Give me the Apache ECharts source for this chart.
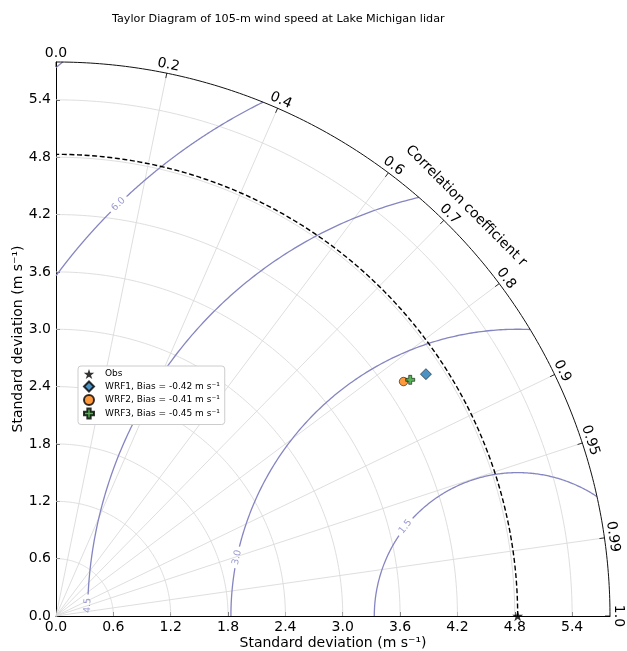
<!DOCTYPE html>
<html><head><meta charset="utf-8">
<script src="https://cdn.jsdelivr.net/npm/echarts@6/dist/echarts.min.js"></script>
<style>html,body{margin:0;padding:0;background:#fff}#c{width:627px;height:651px}</style>
</head><body><div id="c"></div>
<script>
// ---------------- data ----------------
const TITLE = 'Taylor Diagram of 105-m wind speed at Lake Michigan lidar';
const REF_STD = 4.83;          // observed standard deviation
const STD_MAX = 5.796;         // outer radius (1.2 x obs std)
const STD_TICKS = [0.6, 1.2, 1.8, 2.4, 3.0, 3.6, 4.2, 4.8, 5.4];
const CORR_TICKS = [0, 0.2, 0.4, 0.6, 0.7, 0.8, 0.9, 0.95, 0.99, 1.0];
const CORR_LABELS = ['0.0', '0.2', '0.4', '0.6', '0.7', '0.8', '0.9', '0.95', '0.99', '1.0'];
const RMS_LEVELS = [1.5, 3.0, 4.5, 6.0, 7.5];
const RMS_LABELS = ['1.5', '3.0', '4.5', '6.0', ''];
const RMS_LABEL_ANGLE = [141.5, 168.2, 178.6, 134.1, 0]; // degrees around the obs point
const MODELS = ['WRF1', 'WRF2', 'WRF3'];
const MODEL_STD = [4.624, 4.386, 4.454];
const MODEL_CORR = [0.837, 0.829, 0.832];
const MODEL_BIAS = ['-0.42', '-0.41', '-0.45'];

// ---------------- style ----------------
const FONT = 'DejaVu Sans';
const GRID_COLOR = '#dadada';
const CONTOUR_COLOR = '#8585c2';
const CONTOUR_LABEL_COLOR = '#9a9ad0';
const STAR = 'path://M0,-1L0.2245,-0.309L0.951,-0.309L0.363,0.118L0.588,0.809L0,0.382L-0.588,0.809L-0.363,0.118L-0.951,-0.309L-0.2245,-0.309Z';
const DIAMOND = 'path://M0,-1L1,0L0,1L-1,0Z';
const CIRCLE = 'path://M1,0A1,1,0,1,1,-1,0A1,1,0,1,1,1,0Z';
const PLUS = 'path://M-1,-0.333H-0.333V-1H0.333V-0.333H1V0.333H0.333V1H-0.333V0.333H-1Z';
const MODEL_SYMBOL = [DIAMOND, CIRCLE, PLUS];
const MODEL_SIZE = [11, 8.5, 9];
const MODEL_COLOR = ['#1f77b4', '#ff7f0e', '#2ca02c'];

const toXY = (s, c) => [s * c, s * Math.sqrt(Math.max(0, 1 - c * c))];

function pxScale(api) { return api.coord([1, 0])[0] - api.coord([0, 0])[0]; }

function arcPoints(api, r, t0, t1, n) {
  const pts = [];
  for (let i = 0; i <= n; i++) {
    const t = t0 + (t1 - t0) * i / n;
    pts.push(api.coord([r * Math.cos(t), r * Math.sin(t)]));
  }
  return pts;
}

function circlePoints(api, cx, L, p0, p1, n) {
  const pts = [];
  for (let i = 0; i <= n; i++) {
    const p = p0 + (p1 - p0) * i / n;
    pts.push(api.coord([cx + L * Math.cos(p), L * Math.sin(p)]));
  }
  return pts;
}

const series = [];

// std grid arcs
series.push({
  type: 'custom', name: 'stdgrid', z: 1, silent: true, clip: false,
  data: STD_TICKS.map(v => [v, 0]),
  renderItem: (params, api) => ({
    type: 'polyline', silent: true,
    shape: { points: arcPoints(api, api.value(0), 0, Math.PI / 2, 120) },
    style: { stroke: GRID_COLOR, lineWidth: 0.9, fill: 'none' }
  })
});

// correlation grid lines
series.push({
  type: 'custom', name: 'corrgrid', z: 1, silent: true, clip: false,
  data: CORR_TICKS.filter(c => c > 0 && c < 1).map(c => [c, 0]),
  renderItem: (params, api) => {
    const c = api.value(0);
    const a = api.coord([0, 0]), b = api.coord(toXY(STD_MAX, c));
    return { type: 'line', silent: true, shape: { x1: a[0], y1: a[1], x2: b[0], y2: b[1] },
      style: { stroke: GRID_COLOR, lineWidth: 0.9 } };
  }
});

// RMS difference contours
series.push({
  type: 'custom', name: 'contours', z: 2, silent: true, clip: false,
  data: RMS_LEVELS.map(v => [v, 0]),
  renderItem: (params, api) => {
    const L = api.value(0), idx = params.dataIndex;
    const c1 = (STD_MAX * STD_MAX - REF_STD * REF_STD - L * L) / (2 * REF_STD * L);
    const p1 = Math.acos(Math.max(-1, Math.min(1, c1)));
    const p2 = Math.acos(Math.max(-1, Math.min(1, -REF_STD / L)));
    const children = [];
    if (p2 <= p1) return { type: 'group', children };
    let segs = [[p1, p2]];
    const lab = RMS_LABELS[idx];
    if (lab) {
      const sc = pxScale(api);
      const pc = RMS_LABEL_ANGLE[idx] * Math.PI / 180;
      const g = 11 / (L * sc);
      segs = [[p1, pc - g], [pc + g, p2]];
      const pos = api.coord([REF_STD + L * Math.cos(pc), L * Math.sin(pc)]);
      let ang = Math.atan2(Math.cos(pc), -Math.sin(pc));
      if (ang > Math.PI / 2) ang -= Math.PI;
      if (ang < -Math.PI / 2) ang += Math.PI;
      children.push({ type: 'text', x: pos[0], y: pos[1], rotation: ang, silent: true,
        style: { text: lab, fill: CONTOUR_LABEL_COLOR, fontSize: 9.5, fontFamily: FONT,
          align: 'center', verticalAlign: 'middle' } });
    }
    segs.forEach(s => {
      if (s[1] > s[0]) {
        children.push({ type: 'polyline', silent: true,
          shape: { points: circlePoints(api, REF_STD, L, s[0], s[1], 160) },
          style: { stroke: CONTOUR_COLOR, lineWidth: 1.3, fill: 'none' } });
      }
    });
    return { type: 'group', children };
  }
});

// reference arc (dashed) and outer arc + axis title
series.push({
  type: 'custom', name: 'frame', z: 3, silent: true, clip: false,
  data: [[REF_STD, 0]],
  renderItem: (params, api) => {
    const sc = pxScale(api);
    const tp = api.coord(toXY(STD_MAX + 26 / sc, Math.cos(Math.PI / 4)));
    return { type: 'group', children: [
      { type: 'polyline', silent: true, shape: { points: arcPoints(api, api.value(0), 0, Math.PI / 2, 200) },
        style: { stroke: '#000', lineWidth: 1.4, lineDash: [5, 2.6], fill: 'none' } },
      { type: 'polyline', silent: true, shape: { points: arcPoints(api, STD_MAX, 0, Math.PI / 2, 200) },
        style: { stroke: '#111', lineWidth: 1, fill: 'none' } },
      { type: 'text', x: tp[0], y: tp[1], rotation: -Math.PI / 4, silent: true,
        style: { text: 'Correlation coefficient r', fill: '#000', fontSize: 14, fontFamily: FONT,
          align: 'center', verticalAlign: 'middle' } }
    ] };
  }
});

// correlation ticks and labels
series.push({
  type: 'custom', name: 'corrlabels', z: 4, silent: true, clip: false,
  data: CORR_TICKS.map(c => [c, 0]),
  renderItem: (params, api) => {
    const c = api.value(0), i = params.dataIndex;
    const sc = pxScale(api);
    const th = Math.acos(c);
    const a = api.coord(toXY(STD_MAX, c)), b = api.coord(toXY(STD_MAX - 5 / sc, c));
    const lp = api.coord(toXY(STD_MAX + 8.5 / sc, c));
    return { type: 'group', children: [
      { type: 'line', silent: true, shape: { x1: a[0], y1: a[1], x2: b[0], y2: b[1] },
        style: { stroke: '#000', lineWidth: 0.8 } },
      { type: 'text', x: lp[0], y: lp[1], rotation: th - Math.PI / 2, silent: true,
        style: { text: CORR_LABELS[i], fill: '#000', fontSize: 14, fontFamily: FONT,
          align: 'center', verticalAlign: 'middle' } }
    ] };
  }
});

// observation point
series.push({
  type: 'scatter', name: 'Obs', z: 6, clip: false,
  symbol: STAR, symbolSize: 11, symbolKeepAspect: true,
  itemStyle: { color: '#000', borderColor: '#000', borderWidth: 0 },
  data: [toXY(REF_STD, 1)]
});
// model points
MODELS.forEach((m, i) => {
  series.push({
    type: 'scatter', name: m, z: 6, clip: false,
    symbol: MODEL_SYMBOL[i], symbolSize: MODEL_SIZE[i], symbolKeepAspect: true,
    itemStyle: { color: MODEL_COLOR[i], borderColor: '#000', borderWidth: 0.7 },
    data: [toXY(MODEL_STD[i], MODEL_CORR[i])]
  });
});

const axisCommon = {
  type: 'value', min: 0, max: STD_MAX, interval: 0.6,
  axisLine: { show: true, lineStyle: { color: '#000', width: 1 } },
  axisTick: { show: true, inside: true, length: 4, lineStyle: { color: '#000', width: 0.8 } },
  axisLabel: { fontSize: 14, fontFamily: FONT, color: '#000', showMaxLabel: false,
    formatter: v => (v > STD_MAX - 0.1 ? '' : v.toFixed(1)) },
  splitLine: { show: false },
  nameLocation: 'middle',
  nameMoveOverlap: false,
  nameTextStyle: { fontSize: 14, fontFamily: FONT, color: '#000' },
  name: 'Standard deviation (m s\u207B\u00B9)'
};

const legendData = [{ name: 'Obs', icon: STAR }].concat(MODELS.map((m, i) => ({ name: m, icon: MODEL_SYMBOL[i] })));
const biasOf = {};
MODELS.forEach((m, i) => { biasOf[m] = MODEL_BIAS[i]; });

const option = {
  animation: false,
  backgroundColor: '#fff',
  title: { text: TITLE, left: 112, top: 14, padding: 0,
    textStyle: { fontFamily: FONT, fontSize: 11.2, fontWeight: 'normal', color: '#000' } },
  grid: { left: 56, top: 62, width: 554, height: 554, containLabel: false, outerBoundsMode: 'none' },
  xAxis: Object.assign({}, axisCommon, { nameGap: 20, axisLabel: Object.assign({}, axisCommon.axisLabel, { margin: 4 }) }),
  yAxis: Object.assign({}, axisCommon, { nameGap: 31, axisLabel: Object.assign({}, axisCommon.axisLabel, { margin: 5 }) }),
  legend: {
    orient: 'vertical', left: 78, top: 366,
    padding: [3, 5, 5, 5], itemWidth: 14, itemHeight: 10, itemGap: 1.5,
    backgroundColor: '#fff', borderColor: '#cccccc', borderWidth: 1, borderRadius: 3,
    symbolKeepAspect: true, selectedMode: false,
    textStyle: { fontFamily: FONT, fontSize: 9, lineHeight: 10, color: '#000', padding: [0, 0, 0, 4] },
    formatter: name => (name === 'Obs' ? 'Obs' : name + ', Bias = ' + biasOf[name] + ' m s\u207B\u00B9'),
    data: legendData
  },
  series
};

const chart = echarts.init(document.getElementById('c'), null, { renderer: 'canvas' });
chart.setOption(option);
</script>
</body></html>
